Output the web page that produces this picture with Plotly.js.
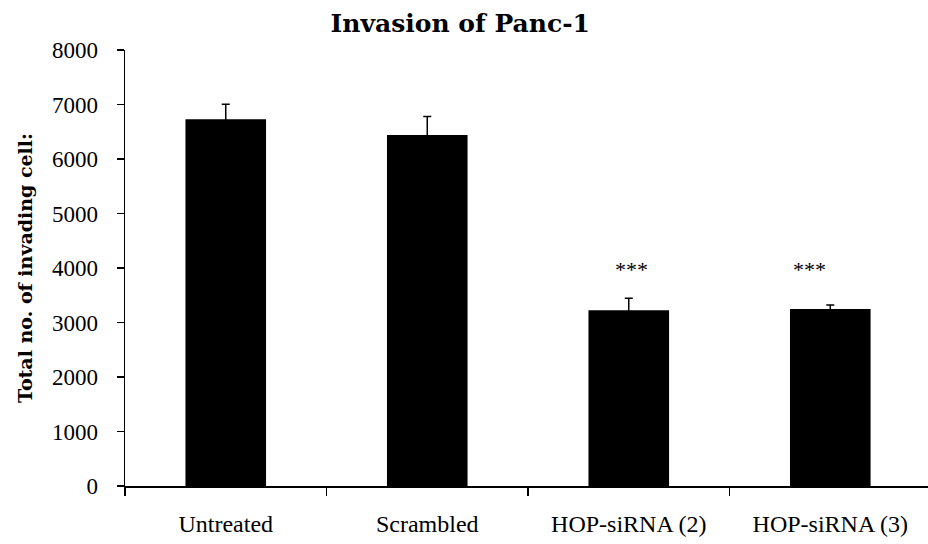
<!DOCTYPE html>
<html>
<head>
<meta charset="utf-8">
<script src="https://cdn.plot.ly/plotly-3.0.1.min.js"></script>
<style>html,body{margin:0;padding:0;background:#fff;}#chart{width:928px;height:544px;}</style>
</head>
<body>
<div id="chart"></div>
<script>
var categories = ["Untreated", "Scrambled", "HOP-siRNA (2)", "HOP-siRNA (3)"];
var invadingCells = [6730, 6440, 3225, 3250];
var errorValues = [275, 340, 220, 70];
var significance = ["", "", "***", "***"];
var significanceY = [null, null, 3980, 3980];
var yTickValues = [0, 1000, 2000, 3000, 4000, 5000, 6000, 7000, 8000];
var yTickLabels = ["0", "1000", "2000", "3000", "4000", "5000", "6000", "7000", "8000"];

var trace = {
  type: "bar",
  x: categories,
  y: invadingCells,
  marker: {color: "#000000", line: {width: 0}},
  error_y: {type: "data", array: errorValues, visible: true, color: "#000000", thickness: 1.5, width: 4},
  hoverinfo: "x+y"
};

var starShift = [0, 0, 3, -21];
var annotations = [];
for (var i = 0; i < categories.length; i++) {
  if (significance[i]) {
    annotations.push({
      x: categories[i], y: significanceY[i], xref: "x", yref: "y",
      text: significance[i], showarrow: false, xshift: starShift[i],
      font: {family: "Liberation Serif, Times New Roman, serif", size: 22, color: "#000"}
    });
  }
}

var layout = {
  width: 928, height: 544,
  margin: {l: 125, r: 0, t: 50, b: 58},
  paper_bgcolor: "#fff", plot_bgcolor: "#fff",
  showlegend: false,
  bargap: 0.6,
  title: {
    text: "Invasion of Panc-1",
    x: 0.496, xref: "container", xanchor: "center",
    y: 0.958, yref: "container", yanchor: "middle",
    font: {family: "DejaVu Serif, serif", size: 25, weight: "bold", color: "#000"}
  },
  xaxis: {
    type: "category",
    range: [-0.5, 3.485],
    showline: true, linecolor: "#000", linewidth: 1.5,
    ticks: "outside", tickson: "boundaries", ticklen: 8, tickcolor: "#000", tickwidth: 1.5,
    showgrid: false, zeroline: false,
    ticklabelstandoff: 16,
    tickfont: {family: "Liberation Serif, Times New Roman, serif", size: 24, color: "#000"}
  },
  yaxis: {
    range: [0, 8000],
    tickvals: yTickValues, ticktext: yTickLabels,
    showline: true, linecolor: "#000", linewidth: 1.5,
    ticks: "outside", ticklen: 7, tickcolor: "#000", tickwidth: 1.5,
    showgrid: false, zeroline: false,
    ticklabelstandoff: 14,
    tickfont: {family: "Liberation Serif, Times New Roman, serif", size: 23, color: "#000"},
    title: {
      text: "Total no. of invading cell:",
      standoff: 14,
      font: {family: "DejaVu Serif, serif", size: 19, weight: "bold", color: "#000"}
    }
  },
  annotations: annotations
};

Plotly.newPlot("chart", [trace], layout, {displayModeBar: false, staticPlot: true});
</script>
</body>
</html>
